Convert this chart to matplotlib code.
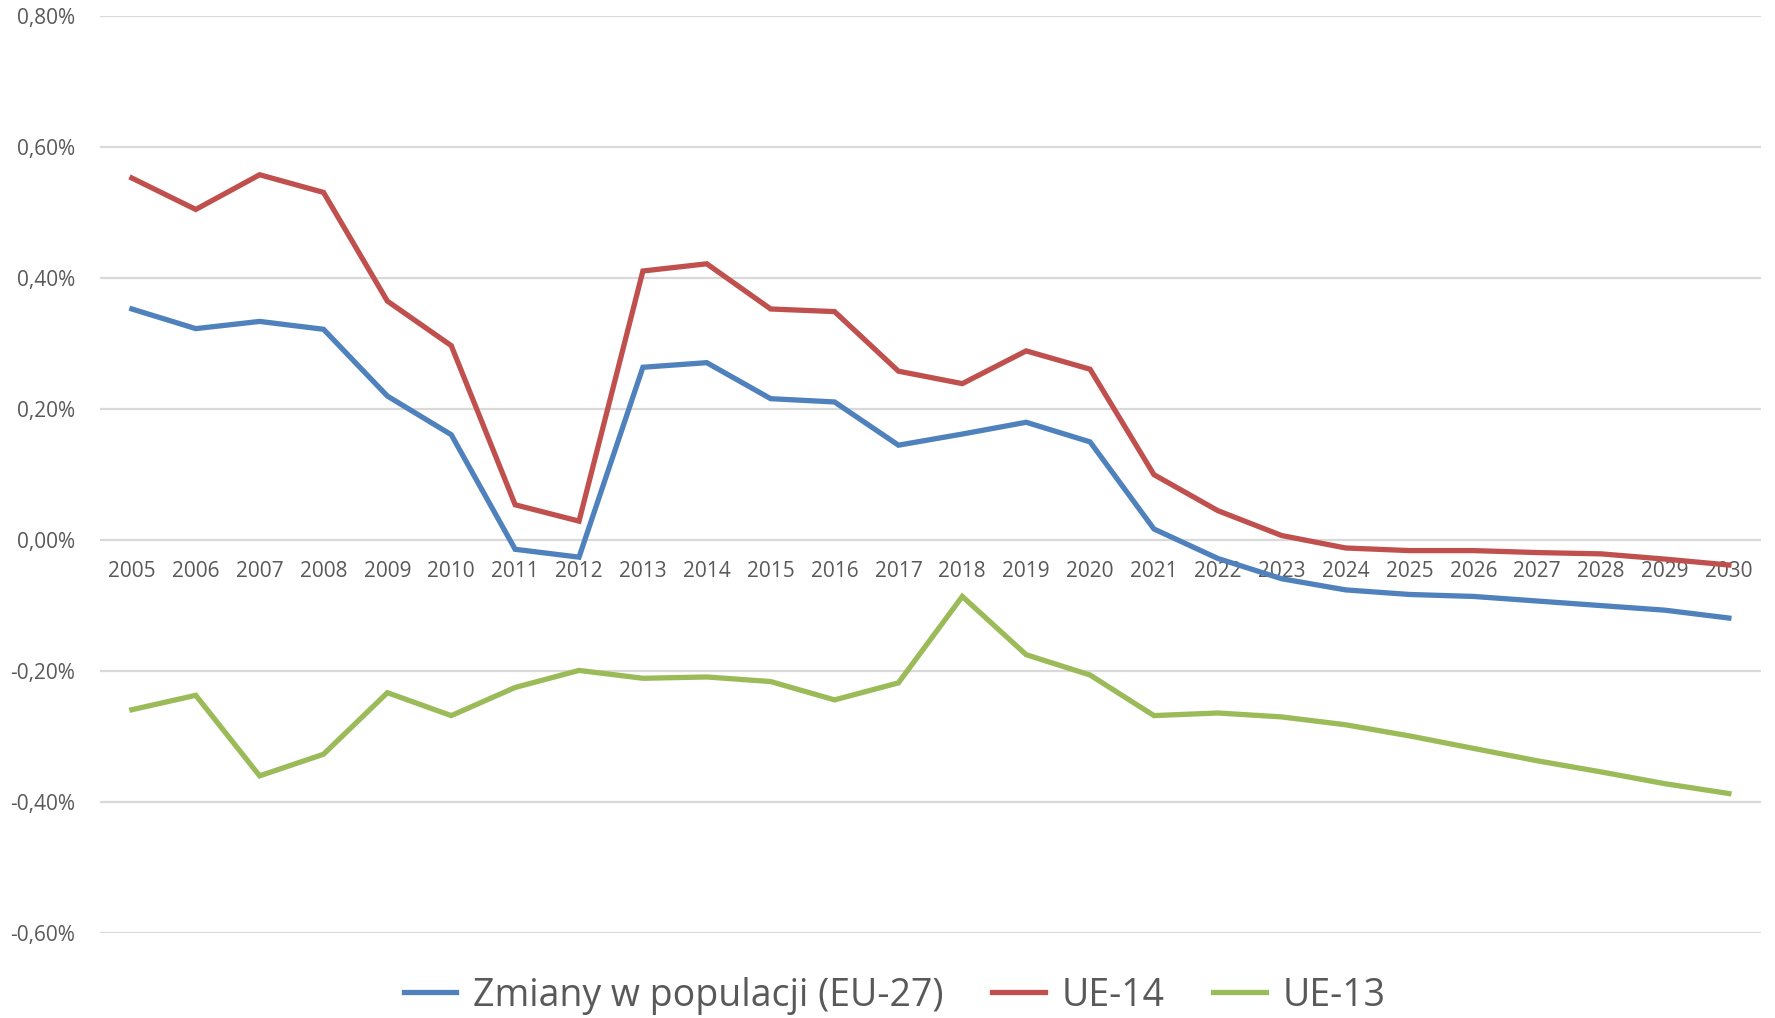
import matplotlib.pyplot as plt
from matplotlib.ticker import FuncFormatter

years = list(range(2005, 2031))

eu27 = [0.353, 0.323, 0.334, 0.322, 0.220, 0.161, -0.014, -0.026, 0.264, 0.271,
        0.216, 0.211, 0.145, 0.162, 0.180, 0.150, 0.017, -0.028, -0.059, -0.076,
        -0.083, -0.086, -0.093, -0.100, -0.107, -0.119]
ue14 = [0.553, 0.505, 0.558, 0.531, 0.365, 0.297, 0.054, 0.029, 0.411, 0.422,
        0.353, 0.349, 0.258, 0.239, 0.289, 0.261, 0.100, 0.045, 0.007, -0.012,
        -0.016, -0.016, -0.019, -0.021, -0.029, -0.038]
ue13 = [-0.259, -0.237, -0.360, -0.327, -0.233, -0.268, -0.225, -0.199, -0.211, -0.209,
        -0.216, -0.244, -0.218, -0.086, -0.175, -0.206, -0.268, -0.264, -0.270, -0.282,
        -0.299, -0.318, -0.337, -0.354, -0.372, -0.387]

labels = ['Zmiany w populacji (EU-27)', 'UE-14', 'UE-13']
colors = ['#4F81BD', '#C0504D', '#9BBB59']

plt.rcParams['font.family'] = ['Open Sans', 'DejaVu Sans']

fig = plt.figure(figsize=(17.75, 10.18), dpi=100)
ax = fig.add_axes([0.0563, 0.0835, 0.9357, 0.9005])

for vals, lab, col in zip([eu27, ue14, ue13], labels, colors):
    ax.plot(years, vals, color=col, lw=3.8, label=lab, solid_joinstyle='miter')

ax.set_xlim(2004.5, 2030.5)
ax.set_ylim(-0.6, 0.8)
ax.set_yticks([-0.6, -0.4, -0.2, 0.0, 0.2, 0.4, 0.6, 0.8])
ax.yaxis.set_major_formatter(FuncFormatter(lambda v, p: f'{v:.2f}%'.replace('.', ',')))
ax.set_xticks(years)
ax.set_xticklabels([str(y) for y in years])
ax.grid(axis='y', color='#D9D9D9', lw=1.6)
ax.set_axisbelow(True)

for s in ['top', 'right', 'left']:
    ax.spines[s].set_visible(False)
ax.spines['bottom'].set_position(('data', 0))
ax.spines['bottom'].set_visible(False)

ax.tick_params(axis='y', length=0, pad=18, labelsize=15, labelcolor='#595959')
ax.tick_params(axis='x', length=0, pad=15, labelsize=15, labelcolor='#595959')

fig.legend(loc='center', bbox_to_anchor=(0.504, 0.022), ncol=3, frameon=False,
           fontsize=27, handlelength=1.4, handletextpad=0.45, columnspacing=1.3,
           labelcolor='#595959')

fig.savefig('out.png', dpi=100)
